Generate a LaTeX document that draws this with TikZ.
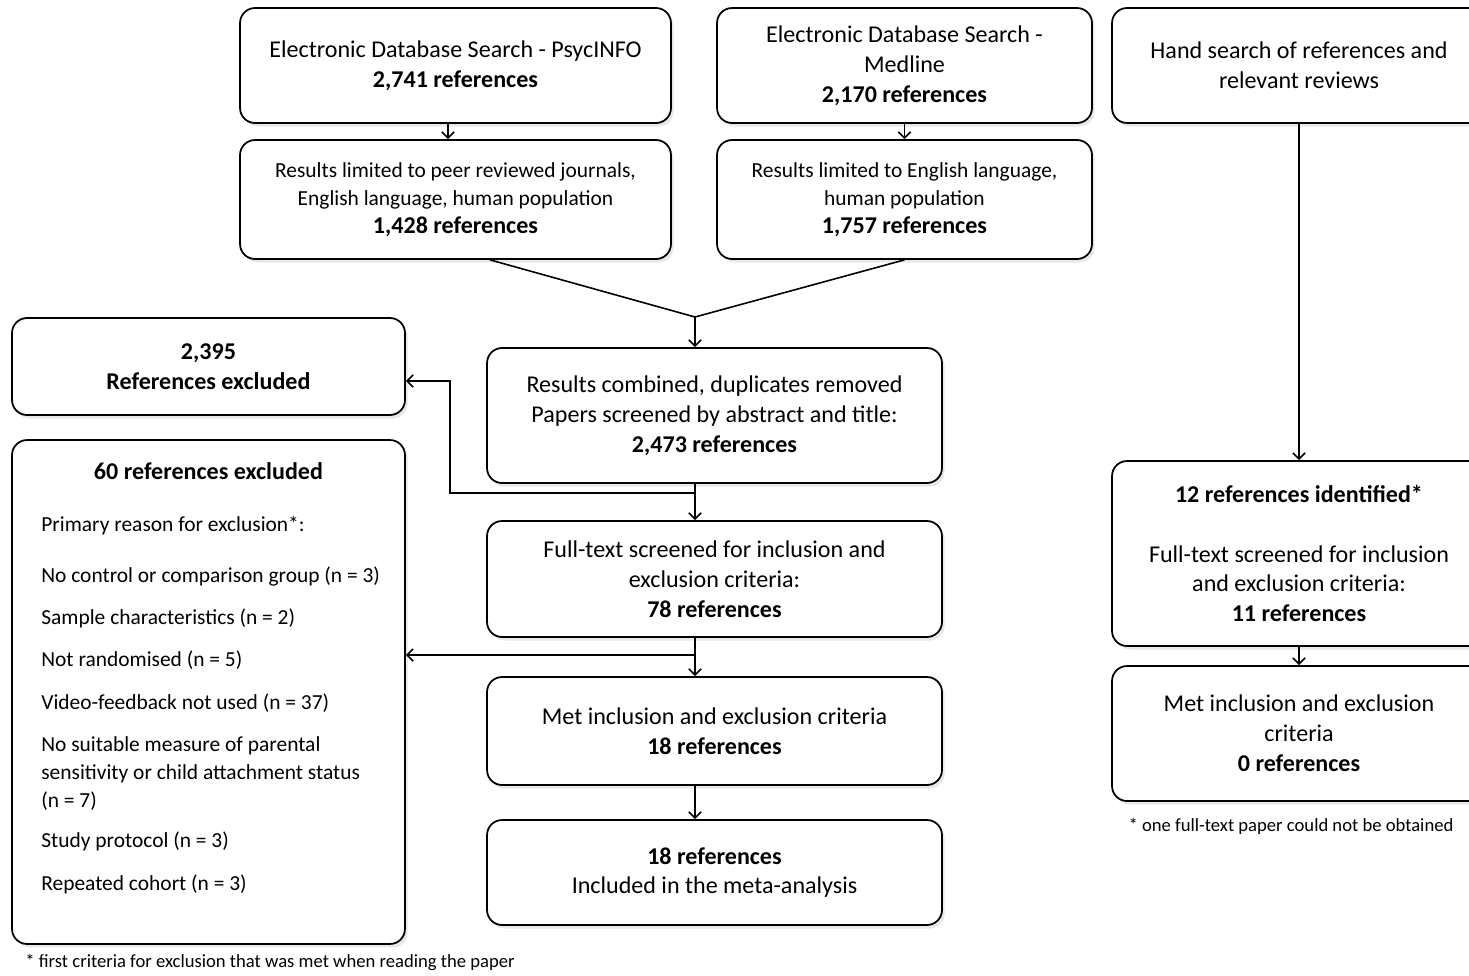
\documentclass[tikz,border=0pt]{standalone}
\usepackage{fontspec}
\setmainfont{Carlito}
\usetikzlibrary{arrows.meta,shadows}

\begin{document}
\begin{tikzpicture}[
  x=0.02cm, y=-0.02cm,
  box/.style={
    draw, line width=1pt, rectangle, rounded corners=0.3cm, fill=white,
    drop shadow={opacity=0.18, shadow xshift=1.5pt, shadow yshift=-2pt},
    align=center, inner sep=4pt,
    font=\fontsize{13.7}{17}\selectfont
  },
  smallbox/.style={
    box, font=\fontsize{12.2}{16}\selectfont
  },
  label/.style={font=\fontsize{13.7}{17}\selectfont\bfseries, inner sep=0pt},
  arr/.style={
    line width=0.9pt, -{Straight Barb[length=3.5pt,width=7pt]}
  },
  link/.style={line width=0.9pt},
  note/.style={font=\fontsize{10.6}{12}\selectfont, inner sep=0pt},
]

\def\numfont{\fontsize{13.7}{17}\selectfont\bfseries}

\useasboundingbox (0,0) rectangle (1469,975);

% database searches
\node[box, minimum width=8.62cm, minimum height=2.3cm] (psyc) at (455.5,65.5) {
  Electronic Database Search - PsycINFO\\
  \textbf{2,741 references}
};
\node[box, minimum width=7.5cm, minimum height=2.3cm] (med) at (904.5,65.5) {
  Electronic Database Search -\\
  Medline\\
  \textbf{2,170 references}
};
\node[box, minimum width=7.48cm, minimum height=2.3cm] (hand) at (1299,65.5) {
  Hand search of references and\\
  relevant reviews
};

% limits
\node[smallbox, minimum width=8.62cm, minimum height=2.38cm] (lim1) at (455.5,199.5) {
  Results limited to peer reviewed journals,\\
  English language, human population\\
  {\numfont 1,428 references}
};
\node[smallbox, minimum width=7.5cm, minimum height=2.38cm] (lim2) at (904.5,199.5) {
  Results limited to English language,\\
  human population\\
  {\numfont 1,757 references}
};

% main column
\node[box, minimum width=9.1cm, minimum height=2.7cm] (comb) at (714.5,415.5) {
  Results combined, duplicates removed\\
  Papers screened by abstract and title:\\
  \textbf{2,473 references}
};
\node[box, minimum width=9.1cm, minimum height=2.32cm] (full) at (714.5,579) {
  Full-text screened for inclusion and\\
  exclusion criteria:\\
  \textbf{78 references}
};
\node[box, minimum width=9.1cm, minimum height=2.16cm] (met) at (714.5,731) {
  Met inclusion and exclusion criteria\\
  \textbf{18 references}
};
\node[box, minimum width=9.1cm, minimum height=2.1cm] (incl) at (714.5,872.5) {
  \textbf{18 references}\\
  Included in the meta-analysis
};

% exclusions
\node[box, minimum width=7.86cm, minimum height=1.94cm] (excl1) at (208.5,366.5) {
  \textbf{2,395}\\
  \textbf{References excluded}
};
\node[box, minimum width=7.86cm, minimum height=10.08cm] (excl2) at (208.5,692) {};
\node[label] (exhead) at (208.5,471) {60 references excluded};
\node[anchor=north west, align=left, inner sep=0pt,
      font=\fontsize{12.2}{16}\selectfont] (exlist) at (41,516) {
  Primary reason for exclusion*:\\[13pt]
  No control or comparison group (n = 3)\\[8pt]
  Sample characteristics (n = 2)\\[8pt]
  Not randomised (n = 5)\\[8pt]
  Video-feedback not used (n = 37)\\[8pt]
  No suitable measure of parental\\
  sensitivity or child attachment status\\
  (n = 7)\\[7pt]
  Study protocol (n = 3)\\[8pt]
  Repeated cohort (n = 3)
};

% hand search column
\node[box, minimum width=7.48cm, minimum height=3.7cm] (ident) at (1299,553.5) {
  \textbf{12 references identified*}\\[17pt]
  Full-text screened for inclusion\\
  and exclusion criteria:\\
  \textbf{11 references}
};
\node[box, minimum width=7.48cm, minimum height=2.7cm] (met2) at (1299,733.5) {
  Met inclusion and exclusion\\
  criteria\\
  \textbf{0 references}
};

% footnotes
\node[note] (note2) at (1291,826) {* one full-text paper could not be obtained};
\node[note, anchor=west] (note1) at (25,962) {* first criteria for exclusion that was met when reading the paper};

% connectors
\coordinate (join) at (695,317);
\coordinate (br1) at (695,493);
\coordinate (br2) at (695,655);

\draw[arr] ([xshift=-0.15cm]psyc.south) -- ([xshift=-0.15cm]lim1.north);
\draw[arr] (med.south) -- (lim2.north);
\draw[link] ([xshift=0.69cm]lim1.south) -- (join) -- (lim2.south);
\draw[arr] (join) -- (join |- comb.north);

\draw[arr] (br1 |- comb.south) -- (br1 |- full.north);
\draw[arr] (br1) -| ([xshift=0.88cm,yshift=-0.29cm]excl1.east)
  -- ([yshift=-0.29cm]excl1.east);

\draw[arr] (br2 |- full.south) -- (br2 |- met.north);
\draw[arr] (br2) -- (br2 -| excl2.east);
\draw[arr] (br2 |- met.south) -- (br2 |- incl.north);

\draw[arr] (hand.south) -- (ident.north);
\draw[arr] (ident.south) -- (met2.north);

\end{tikzpicture}
\end{document}
